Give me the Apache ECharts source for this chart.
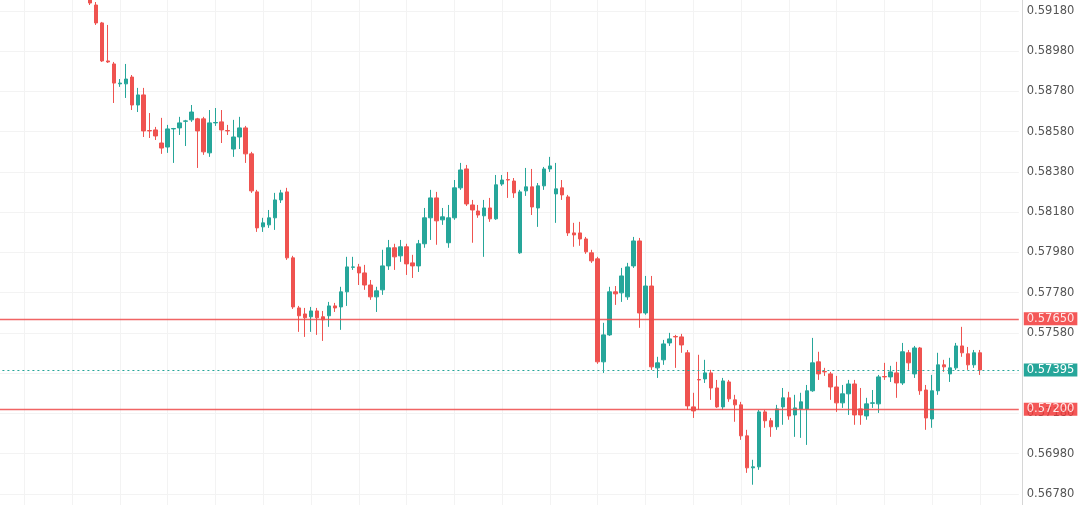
<!DOCTYPE html>
<html><head><meta charset="utf-8">
<script src="https://cdn.jsdelivr.net/npm/echarts@6/dist/echarts.min.js"></script>
<style>html,body{margin:0;padding:0;background:#fff}#c{width:1080px;height:505px}</style>
</head><body><div id="c"></div>
<script>
const openP = [
0.59260,0.59210,0.59121,0.58932,0.58917,0.58818,0.58818,0.58852,0.58713,0.58763,
0.58586,0.58589,0.58524,0.58504,0.58594,0.58599,0.58632,0.58639,0.58644,0.58644,
0.58475,0.58624,0.58629,0.58586,0.58494,0.58554,0.58599,0.58470,0.58281,0.58107,
0.58117,0.58152,0.58241,0.58281,0.57953,0.57704,0.57674,0.57660,0.57689,0.57660,
0.57665,0.57714,0.57709,0.57784,0.57906,0.57908,0.57878,0.57818,0.57759,0.57794,
0.57913,0.58003,0.57963,0.58008,0.57928,0.57913,0.58023,0.58152,0.58251,0.58142,
0.58028,0.58152,0.58301,0.58395,0.58216,0.58186,0.58162,0.58201,0.58147,0.58320,
0.58342,0.58335,0.57978,0.58286,0.58306,0.58201,0.58311,0.58395,0.58271,0.58301,
0.58256,0.58077,0.58077,0.58047,0.57978,0.57948,0.57436,0.57570,0.57784,0.57779,
0.57759,0.57913,0.58037,0.57679,0.57813,0.57406,0.57446,0.57530,0.57562,0.57560,
0.57481,0.57212,0.57348,0.57351,0.57381,0.57306,0.57212,0.57336,0.57247,0.57222,
0.57068,0.56909,0.56914,0.57187,0.57143,0.57113,0.57212,0.57257,0.57172,0.57202,
0.57202,0.57292,0.57436,0.57388,0.57376,0.57311,0.57232,0.57277,0.57326,0.57202,
0.57167,0.57230,0.57227,0.57363,0.57361,0.57381,0.57331,0.57481,0.57376,0.57505,
0.57296,0.57152,0.57292,0.57421,0.57376,0.57406,0.57515,0.57476,0.57421,0.57481];
const closeP = [
0.59220,0.59121,0.58932,0.58927,0.58822,0.58822,0.58842,0.58713,0.58763,0.58584,
0.58584,0.58559,0.58499,0.58594,0.58596,0.58624,0.58634,0.58678,0.58584,0.58480,
0.58624,0.58626,0.58589,0.58584,0.58554,0.58599,0.58470,0.58286,0.58102,0.58127,
0.58152,0.58241,0.58276,0.57953,0.57709,0.57665,0.57655,0.57689,0.57655,0.57645,
0.57714,0.57704,0.57784,0.57908,0.57908,0.57878,0.57818,0.57759,0.57789,0.57913,
0.58003,0.57958,0.58008,0.57923,0.57913,0.58023,0.58152,0.58251,0.58137,0.58157,
0.58152,0.58301,0.58390,0.58221,0.58191,0.58166,0.58201,0.58147,0.58316,0.58340,
0.58340,0.58276,0.58281,0.58306,0.58206,0.58311,0.58395,0.58410,0.58296,0.58266,
0.58077,0.58067,0.58047,0.57983,0.57938,0.57436,0.57570,0.57784,0.57774,0.57863,
0.57908,0.58037,0.57679,0.57813,0.57411,0.57431,0.57525,0.57550,0.57560,0.57520,
0.57217,0.57192,0.57346,0.57381,0.57306,0.57212,0.57341,0.57252,0.57222,0.57068,
0.56909,0.56914,0.57187,0.57143,0.57113,0.57202,0.57257,0.57167,0.57207,0.57237,
0.57292,0.57431,0.57376,0.57386,0.57311,0.57232,0.57277,0.57326,0.57172,0.57172,
0.57227,0.57232,0.57361,0.57361,0.57386,0.57331,0.57486,0.57431,0.57505,0.57292,
0.57157,0.57292,0.57421,0.57411,0.57406,0.57515,0.57481,0.57421,0.57481,0.57396];
const lowP = [
0.59210,0.59111,0.58927,0.58922,0.58723,0.58803,0.58748,0.58688,0.58678,0.58554,
0.58549,0.58539,0.58470,0.58475,0.58425,0.58564,0.58509,0.58629,0.58400,0.58465,
0.58455,0.58609,0.58524,0.58564,0.58455,0.58494,0.58425,0.58276,0.58082,0.58082,
0.58102,0.58092,0.58226,0.57943,0.57699,0.57585,0.57560,0.57585,0.57570,0.57540,
0.57610,0.57684,0.57595,0.57714,0.57893,0.57818,0.57794,0.57744,0.57684,0.57769,
0.57893,0.57893,0.57933,0.57868,0.57853,0.57883,0.58003,0.58042,0.58018,0.58117,
0.58003,0.58142,0.58291,0.58211,0.58028,0.58152,0.57958,0.58132,0.58142,0.58311,
0.58251,0.58251,0.57973,0.58261,0.58166,0.58107,0.58291,0.58380,0.58127,0.58241,
0.58062,0.58008,0.58013,0.57973,0.57928,0.57426,0.57381,0.57565,0.57719,0.57734,
0.57744,0.57903,0.57605,0.57670,0.57396,0.57356,0.57421,0.57515,0.57406,0.57481,
0.57197,0.57157,0.57197,0.57331,0.57247,0.57207,0.57197,0.57237,0.57138,0.57048,
0.56884,0.56825,0.56899,0.57108,0.57063,0.57098,0.57123,0.57148,0.57063,0.57058,
0.57023,0.57287,0.57346,0.57366,0.57247,0.57187,0.57207,0.57172,0.57123,0.57123,
0.57148,0.57207,0.57182,0.57346,0.57336,0.57257,0.57321,0.57396,0.57356,0.57272,
0.57098,0.57108,0.57272,0.57386,0.57336,0.57396,0.57461,0.57396,0.57406,0.57371];
const highP = [
0.59275,0.59225,0.59126,0.59111,0.58927,0.58842,0.58917,0.58862,0.58798,0.58798,
0.58673,0.58604,0.58649,0.58614,0.58599,0.58654,0.58639,0.58713,0.58649,0.58654,
0.58688,0.58698,0.58688,0.58614,0.58639,0.58654,0.58609,0.58480,0.58291,0.58152,
0.58191,0.58276,0.58291,0.58301,0.57963,0.57714,0.57704,0.57709,0.57704,0.57689,
0.57734,0.57729,0.57809,0.57958,0.57958,0.57923,0.57918,0.57843,0.57809,0.57993,
0.58042,0.58023,0.58042,0.58023,0.57968,0.58042,0.58201,0.58291,0.58281,0.58201,
0.58216,0.58340,0.58425,0.58415,0.58241,0.58216,0.58241,0.58251,0.58365,0.58365,
0.58380,0.58350,0.58291,0.58400,0.58395,0.58325,0.58405,0.58455,0.58425,0.58340,
0.58266,0.58127,0.58132,0.58057,0.57993,0.57958,0.57630,0.57809,0.57813,0.57903,
0.57928,0.58057,0.58052,0.57863,0.57863,0.57461,0.57545,0.57580,0.57570,0.57575,
0.57495,0.57282,0.57471,0.57446,0.57396,0.57346,0.57356,0.57346,0.57272,0.57237,
0.57098,0.56949,0.57197,0.57197,0.57157,0.57222,0.57306,0.57287,0.57272,0.57282,
0.57321,0.57555,0.57486,0.57406,0.57386,0.57366,0.57321,0.57346,0.57346,0.57306,
0.57257,0.57296,0.57371,0.57431,0.57416,0.57436,0.57530,0.57495,0.57515,0.57510,
0.57321,0.57371,0.57481,0.57446,0.57456,0.57530,0.57610,0.57510,0.57495,0.57495];

// horizontal levels: resistance & support, and the current price
const srLevels = [0.57650, 0.57200];
const currentPrice = [0.57395];

const PAD_LEFT = 15, PAD_RIGHT = 6;
const categories = [];
const candleData = [];
for (let i = 0; i < PAD_LEFT; i++) { categories.push('p' + i); candleData.push(['-', '-', '-', '-']); }
for (let i = 0; i < openP.length; i++) {
  categories.push(String(i));
  candleData.push([openP[i], closeP[i], lowP[i], highP[i]]);
}
for (let i = 0; i < PAD_RIGHT; i++) { categories.push('q' + i); candleData.push(['-', '-', '-', '-']); }
const lastIdx = PAD_LEFT + openP.length - 1;

const FONT = 'DejaVu Sans';
function tagLabel(bg) {
  return {
    show: true,
    position: 'end',
    distance: 5,
    formatter: function (p) { return Number(p.value).toFixed(5); },
    color: '#fff',
    backgroundColor: bg,
    fontFamily: FONT,
    fontSize: 11.5,
    padding: [1, 3, 0, 3]
  };
}
function levelSeries(values, lineStyle, bg) {
  return {
    type: 'line',
    data: [],
    silent: true,
    markLine: {
      symbol: ['none', 'none'],
      silent: true,
      animation: false,
      precision: 5,
      lineStyle: lineStyle,
      label: tagLabel(bg),
      emphasis: { disabled: true },
      data: values.map(function (v) { return { yAxis: v, lineStyle: lineStyle }; })
    }
  };
}

const chart = echarts.init(document.getElementById('c'), null, { renderer: 'canvas' });
chart.setOption({
  animation: false,
  backgroundColor: '#ffffff',
  grid: { left: -2.6, right: 61.2, top: 0, bottom: -29, containLabel: false, outerBoundsMode: 'none' },
  xAxis: {
    type: 'category',
    data: categories,
    boundaryGap: true,
    axisLine: { show: false },
    axisTick: { show: false },
    axisLabel: { show: false },
    splitLine: {
      show: true,
      alignWithLabel: true,
      interval: function (idx) { return ((lastIdx - idx) % 8 + 8) % 8 === 0; },
      lineStyle: { color: '#f3f3f3', width: 1 }
    }
  },
  yAxis: {
    type: 'value',
    position: 'right',
    offset: 3,
    min: 0.5658,
    max: 0.59235,
    interval: 0.002,
    axisLine: { show: true, lineStyle: { color: '#d6d6d6', width: 1 } },
    axisTick: { show: false },
    axisLabel: {
      margin: 5,
      color: '#555',
      fontFamily: FONT,
      fontSize: 11.5,
      showMaxLabel: false,
      formatter: function (v) { return v.toFixed(5); }
    },
    splitLine: { show: true, showMaxLine: false, lineStyle: { color: '#f3f3f3', width: 1 } }
  },
  series: [{
    type: 'candlestick',
    data: candleData,
    barWidth: 4,
    clip: true,
    itemStyle: {
      color: '#26a69a', color0: '#ef5350',
      borderColor: '#26a69a', borderColor0: '#ef5350', borderWidth: 1
    }
  },
  levelSeries(srLevels, { color: '#ef4a4a', type: 'solid', width: 1.3, opacity: 0.85 }, '#f23a3a'),
  levelSeries(currentPrice, { color: '#26a69a', type: [2, 3], width: 1, opacity: 1 }, '#26a69a')
  ]
});
</script>
</body></html>
